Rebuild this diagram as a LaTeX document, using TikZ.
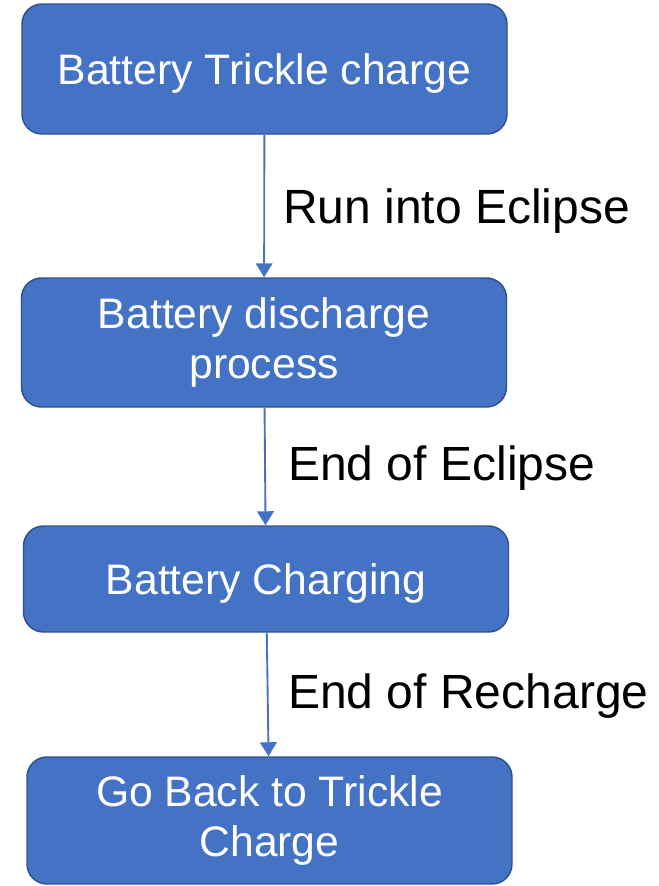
\documentclass[tikz,border=0pt]{standalone}
\usepackage{fontspec}
\setmainfont{Liberation Sans}
\usetikzlibrary{arrows.meta}
\definecolor{boxfill}{HTML}{4472C4}
\definecolor{boxline}{HTML}{2F528F}
\tikzstyle{stage}=[fill=boxfill, draw=boxline, line width=1.1pt, shape=rectangle, rounded corners=15pt, minimum width=363.75pt, text=white, align=center, font=\fontsize{32}{37.5}\selectfont, execute at begin node={\rule{0pt}{0.95em}}]
\tikzstyle{twoline}=[execute at begin node={\rule{0pt}{1.12em}}]
\tikzstyle{lbl}=[anchor=base west, inner sep=0pt, font=\fontsize{36}{40}\selectfont]
\tikzstyle{flow}=[draw=boxfill, line width=1.4pt, -{Triangle[width=12.5pt,length=10.5pt]}]

\begin{document}
\begin{tikzpicture}[x=0.75pt, y=-0.75pt]
		\useasboundingbox (0,0) rectangle (659,886);

		\node [style=stage, minimum height=97.5pt] (1) at (264.5, 69) {Battery Trickle charge};
		\node [style=stage, style=twoline, minimum height=96.75pt] (2) at (264, 342.5) {Battery discharge\\process};
		\node [style=stage, minimum height=79.5pt] (3) at (266, 579) {Battery Charging};
		\node [style=stage, style=twoline, minimum height=95.25pt] (4) at (269.5, 820.5) {Go Back to Trickle\\Charge};

		\node [style=lbl] (11) at (283, 223) {Run into Eclipse};
		\node [style=lbl] (12) at (288, 480) {End of Eclipse};
		\node [style=lbl] (13) at (288, 708) {End of Recharge};

		\draw [style=flow] (1) to (2);
		\draw [style=flow] (2) to (3);
		\draw [style=flow] (3) to (4);
	\end{tikzpicture}
\end{document}
